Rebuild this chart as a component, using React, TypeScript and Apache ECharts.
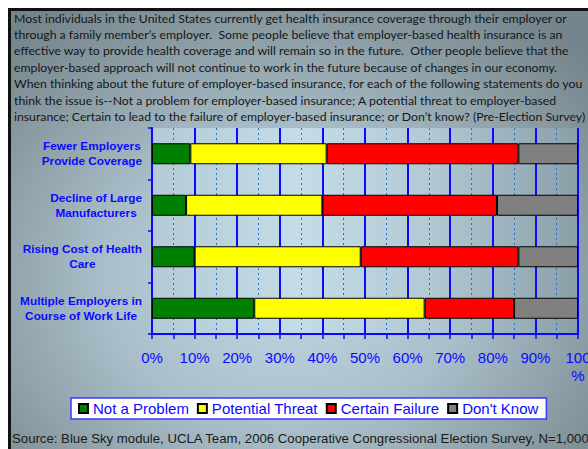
import React, { useEffect, useRef } from "react";
import * as echarts from "echarts";

const CATEGORIES = [
  "Fewer Employers\nProvide Coverage",
  "Decline of Large\nManufacturers",
  "Rising Cost of Health\nCare",
  "Multiple Employers in\nCourse of Work Life",
];
const NOT_A_PROBLEM = [9, 8, 10, 24];
const POTENTIAL_THREAT = [32, 32, 39, 40];
const CERTAIN_FAILURE = [45, 41, 37, 21];
const DONT_KNOW = [14, 19, 14, 15];
const SERIES_NAMES = ["Not a Problem", "Potential Threat", "Certain Failure", "Don't Know"];
const SERIES_COLORS = ["#008000", "#ffff00", "#ff0000", "#808080"];
const HEADER_LINES = [
  "Most individuals in the United States currently get health insurance coverage through their employer or",
  "through a family member\u2019s employer.  Some people believe that employer-based health insurance is an",
  "effective way to provide health coverage and will remain so in the future.  Other people believe that the",
  "employer-based approach will not continue to work in the future because of changes in our economy.",
  "When thinking about the future of employer-based insurance, for each of the following statements do you",
  "think the issue is--Not a problem for employer-based insurance; A potential threat to employer-based",
  "insurance; Certain to lead to the failure of employer-based insurance; or Don\u2019t know? (Pre-Election Survey)",
];
const SOURCE_TEXT =
  "Source: Blue Sky module, UCLA Team, 2006 Cooperative Congressional Election Survey, N=1,000";

const BLUE = "#0a0aff";
const ARIAL = "Arial, 'Liberation Sans', sans-serif";

export default function App() {
  const ref = useRef<HTMLDivElement>(null);
  useEffect(() => {
    document.body.style.margin = "8px 0 0 8px";
    document.body.style.overflow = "hidden";
    if (!ref.current) return;
    const chart = echarts.init(ref.current, undefined, { renderer: "svg" });
    const values = [NOT_A_PROBLEM, POTENTIAL_THREAT, CERTAIN_FAILURE, DONT_KNOW];
    const headerGraphics = HEADER_LINES.map((line, i) => ({
      type: "text",
      x: 6,
      y: 4 + i * 16.4,
      scaleX: 0.99,
      style: {
        text: line,
        font: "12.4px Lato, 'Open Sans', sans-serif",
        fill: "#161616",
        textVerticalAlign: "top",
      },
    }));
    chart.setOption({
      animation: false,
      backgroundColor: "transparent",
      grid: {
        left: 144,
        right: 10,
        top: 120,
        bottom: 115,
        outerBoundsMode: "none",
        containLabel: false,
        show: true,
        borderWidth: 0,
        backgroundColor: new echarts.graphic.LinearGradient(0, 0, 1, 0, [
          { offset: 0, color: "#b4cbd6" },
          { offset: 0.35, color: "#c4dce6" },
          { offset: 0.65, color: "#b3c9d3" },
          { offset: 1, color: "#8a9fa8" },
        ]),
      },
      legend: {
        data: SERIES_NAMES,
        left: 63,
        top: 390,
        orient: "horizontal",
        padding: [3, 8, 3, 7],
        itemGap: 8,
        itemWidth: 9,
        itemHeight: 9,
        icon: "rect",
        backgroundColor: "#ffffff",
        borderColor: "#3a3aff",
        borderWidth: 1.5,
        borderRadius: 0,
        textStyle: { color: BLUE, fontSize: 15, fontFamily: ARIAL },
      },
      xAxis: {
        type: "value",
        min: 0,
        max: 100,
        interval: 10,
        axisLine: { show: true, lineStyle: { color: BLUE, width: 2 } },
        axisTick: { show: true, length: 5, lineStyle: { color: BLUE, width: 1.5 } },
        minorTick: { show: true, splitNumber: 2, length: 5, lineStyle: { color: BLUE, width: 1.5 } },
        splitLine: { show: true, lineStyle: { color: BLUE, width: 2 } },
        minorSplitLine: { show: true, lineStyle: { color: "#1f6fd6", width: 1, type: [2, 3] } },
        axisLabel: {
          margin: 14,
          color: BLUE,
          fontSize: 15,
          fontFamily: ARIAL,
          lineHeight: 18,
          formatter: (v: number) => (v === 100 ? "100\n%" : v + "%"),
        },
      },
      yAxis: {
        type: "category",
        inverse: true,
        data: CATEGORIES,
        axisLine: { show: true, lineStyle: { color: BLUE, width: 2 } },
        axisTick: { show: true, length: 4, lineStyle: { color: BLUE, width: 1.5 } },
        axisLabel: {
          margin: 10,
          align: "right",
          formatter: (v: string) =>
            v
              .split("\n")
              .map((l) => "{c|" + l + "}")
              .join("\n"),
          rich: {
            c: {
              align: "center",
              color: BLUE,
              fontSize: 11.8,
              fontWeight: "bold",
              fontFamily: ARIAL,
              lineHeight: 15,
            },
          },
        },
      },
      series: SERIES_NAMES.map((name, i) => ({
        name,
        type: "bar",
        stack: "total",
        barWidth: 21,
        data: values[i],
        itemStyle: { color: SERIES_COLORS[i], borderColor: "#000", borderWidth: 1 },
      })),
      graphic: [
        { type: "rect", left: 0, top: 0, shape: { width: 580, height: 3 }, style: { fill: "#111" } },
        { type: "rect", left: 0, top: 0, shape: { width: 3, height: 441 }, style: { fill: "#111" } },
        ...headerGraphics,
        {
          type: "text",
          left: 4,
          top: 424,
          style: {
            text: SOURCE_TEXT,
            font: "13.2px " + ARIAL,
            fill: "#1a1a1a",
          },
        },
      ],
    });
    return () => chart.dispose();
  }, []);
  return (
    <div
      ref={ref}
      style={{
        width: 580,
        height: 441,
        background:
          "radial-gradient(ellipse 70% 75% at 48% 62%, #c2d8e3 0%, #a9bec9 45%, #87989f 80%, #75858d 100%)",
      }}
    />
  );
}
